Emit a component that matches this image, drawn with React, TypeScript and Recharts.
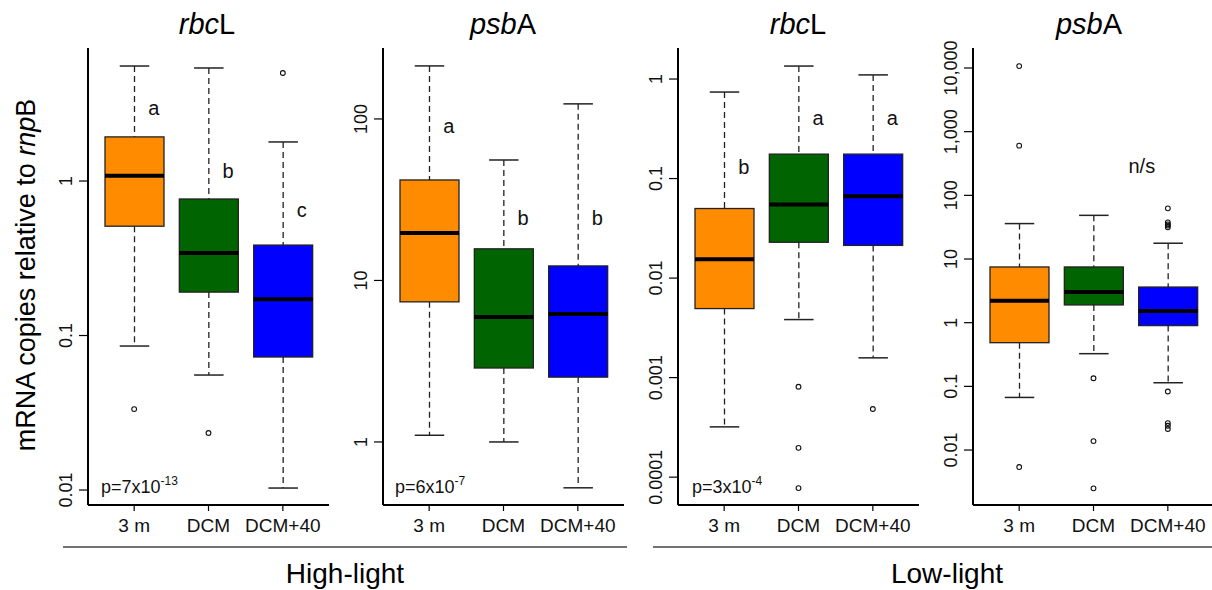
import React from "react";
import { ComposedChart, Bar, Scatter, XAxis, YAxis, ReferenceDot } from "recharts";

const FONT = "'Liberation Sans', Arial, Helvetica, sans-serif";

const categories = ["3 m", "DCM", "DCM+40"];
const boxColors = ["#ff8c00", "#006400", "#0000ff"];

// each row: [lower whisker, Q1, median, Q3, upper whisker]
const hlRbcLStats = [
  [0.0855, 0.51, 1.08, 1.93, 5.55],
  [0.0555, 0.191, 0.342, 0.765, 5.39],
  [0.0103, 0.0726, 0.172, 0.385, 1.79],
];
const hlRbcLOutliers = [[0.0334], [0.0234], [5.0]];
const hlRbcLLetters = ["a", "b", "c"];
const hlRbcLLetterY = [2.97, 1.16, 0.65];

const hlPsbAStats = [
  [1.1, 7.37, 19.7, 41.9, 213],
  [1.0, 2.87, 5.94, 15.7, 55.7],
  [0.52, 2.52, 6.2, 12.3, 124],
];
const hlPsbAOutliers: number[][] = [[], [], []];
const hlPsbALetters = ["a", "b", "b"];
const hlPsbALetterY = [90.5, 24.4, 24.4];

const llRbcLStats = [
  [0.00032, 0.00494, 0.0155, 0.05, 0.74],
  [0.00383, 0.0229, 0.055, 0.176, 1.35],
  [0.00158, 0.0213, 0.0664, 0.176, 1.1],
];
const llRbcLOutliers = [[], [0.00081, 0.000197, 0.0000776], [0.000484]];
const llRbcLLetters = ["b", "a", "a"];
const llRbcLLetterY = [0.13, 0.405, 0.405];

const llPsbAStats = [
  [0.067, 0.485, 2.22, 7.5, 36],
  [0.326, 1.9, 3.03, 7.5, 48.5],
  [0.114, 0.9, 1.53, 3.63, 17.7],
];
const llPsbAOutliers = [
  [10700, 603, 0.0054],
  [0.134, 0.0138, 0.0025],
  [62.5, 37.5, 35, 33.5, 31.5, 0.083, 0.0265, 0.024, 0.0214],
];
const llPsbALetters = ["", "n/s", ""];
const llPsbALetterY = [1, 292, 1];

const plainTicks = (v: number) => String(v);
const commaTicks = (v: number) => v.toLocaleString("en-US");

function span(p: any) {
  const top = Math.min(p.y, p.y + p.height);
  return { top, bottom: top + Math.abs(p.height), cx: p.x + p.width / 2, w: p.width };
}

const LowWhisker = (p: any) => {
  const s = span(p);
  return (
    <g>
      <line x1={s.cx} x2={s.cx} y1={s.top} y2={s.bottom} stroke="#222" strokeWidth={1.3} strokeDasharray="6 4" />
      <line x1={s.cx - s.w / 4} x2={s.cx + s.w / 4} y1={s.bottom} y2={s.bottom} stroke="#222" strokeWidth={1.5} />
    </g>
  );
};

const HighWhisker = (p: any) => {
  const s = span(p);
  return (
    <g>
      <line x1={s.cx} x2={s.cx} y1={s.top} y2={s.bottom} stroke="#222" strokeWidth={1.3} strokeDasharray="6 4" />
      <line x1={s.cx - s.w / 4} x2={s.cx + s.w / 4} y1={s.top} y2={s.top} stroke="#222" strokeWidth={1.5} />
    </g>
  );
};

const BoxShape = (p: any) => {
  const s = span(p);
  return (
    <rect x={p.x} y={s.top} width={p.width} height={s.bottom - s.top} fill={p.payload.color} stroke="#222" strokeWidth={1.3} />
  );
};

const MedianShape = (p: any) => {
  const s = span(p);
  const y = (s.top + s.bottom) / 2;
  return <line x1={p.x} x2={p.x + p.width} y1={y} y2={y} stroke="#000" strokeWidth={4} />;
};

const OutlierShape = (p: any) => (
  <circle cx={p.cx} cy={p.cy} r={2.4} fill="none" stroke="#111" strokeWidth={1.1} />
);

const XTick = (p: any) => (
  <text x={p.x} y={p.y + 19} textAnchor="middle" fontFamily={FONT} fontSize={19} fill="#111">
    {p.payload.value}
  </text>
);

interface PanelProps {
  left: number;
  stats: number[][];
  outliers: number[][];
  letters: string[];
  letterY: number[];
  letterDx: number;
  domain: [number, number];
  ticks: number[];
  fmt: (v: number) => string;
}

function Panel({ left, stats, outliers, letters, letterY, letterDx, domain, ticks, fmt }: PanelProps) {
  const rows = categories.map((name, i) => ({
    name,
    low: stats[i][0],
    q1: stats[i][1],
    med: stats[i][2],
    q3: stats[i][3],
    high: stats[i][4],
    color: boxColors[i],
  }));
  const dots = outliers.flatMap((vals, i) => vals.map((v) => ({ name: categories[i], value: v })));

  const YTick = (p: any) => {
    const bx = p.x - 5;
    return (
      <text
        x={bx}
        y={p.y}
        transform={`rotate(-90, ${bx}, ${p.y})`}
        textAnchor="middle"
        fontFamily={FONT}
        fontSize={18}
        fill="#111"
      >
        {fmt(p.payload.value)}
      </text>
    );
  };

  return (
    <div style={{ position: "absolute", left: left - 60, top: 0 }}>
      <ComposedChart
        width={303}
        height={590}
        data={rows}
        margin={{ top: 48, right: 2, bottom: 0, left: 0 }}
        barSize={59}
        barGap={-59}
        barCategoryGap={0}
      >
        <XAxis
          dataKey="name"
          type="category"
          allowDuplicatedCategory={false}
          padding={{ left: 9, right: 9 }}
          height={85}
          interval={0}
          tickSize={6}
          axisLine={{ stroke: "#000", strokeWidth: 2 }}
          tickLine={{ stroke: "#000", strokeWidth: 1.2 }}
          tick={XTick}
        />
        <XAxis
          xAxisId="top"
          dataKey="name"
          orientation="top"
          height={0}
          tick={false}
          tickLine={false}
          axisLine={{ stroke: "#000", strokeWidth: 2 }}
        />
        <YAxis
          type="number"
          scale="log"
          domain={domain}
          allowDataOverflow
          ticks={ticks}
          interval={0}
          width={60}
          tickSize={9}
          axisLine={{ stroke: "#000", strokeWidth: 2 }}
          tickLine={{ stroke: "#000", strokeWidth: 1.2 }}
          tick={YTick}
        />
        <YAxis
          yAxisId="right"
          orientation="right"
          width={0}
          tick={false}
          tickLine={false}
          axisLine={{ stroke: "#000", strokeWidth: 2 }}
        />
        <Bar dataKey={(d: any) => [d.low, d.q1]} shape={LowWhisker} isAnimationActive={false} />
        <Bar dataKey={(d: any) => [d.q3, d.high]} shape={HighWhisker} isAnimationActive={false} />
        <Bar dataKey={(d: any) => [d.q1, d.q3]} shape={BoxShape} isAnimationActive={false} />
        <Bar dataKey={(d: any) => [d.med, d.med]} shape={MedianShape} isAnimationActive={false} />
        <Scatter data={dots} dataKey="value" shape={OutlierShape} isAnimationActive={false} />
        {letters.map((t, i) =>
          t ? (
            <ReferenceDot
              key={i}
              x={categories[i]}
              y={letterY[i]}
              r={0}
              shape={(p: any) => (
                <text x={p.cx + letterDx} y={p.cy} dy="0.35em" fontFamily={FONT} fontSize={20} fill="#111">
                  {t}
                </text>
              )}
            />
          ) : null
        )}
      </ComposedChart>
    </div>
  );
}

function PValue({ x, base, exp }: { x: number; base: string; exp: string }) {
  return (
    <text x={x} y={493} fontFamily={FONT} fontSize={18} fill="#111">
      {base}
      <tspan fontSize={12} dy={-8}>
        {exp}
      </tspan>
    </text>
  );
}

function Title({ x, it, rest }: { x: number; it: string; rest: string }) {
  return (
    <text x={x} y={34} textAnchor="middle" fontFamily={FONT} fontSize={29} fill="#000">
      <tspan fontStyle="italic">{it}</tspan>
      {rest}
    </text>
  );
}

export default function App() {
  return (
    <div
      style={{
        position: "absolute",
        left: 0,
        top: 0,
        width: 1212,
        height: 590,
        overflow: "hidden",
        background: "#fff",
      }}
    >
      <Panel
        left={88}
        stats={hlRbcLStats}
        outliers={hlRbcLOutliers}
        letters={hlRbcLLetters}
        letterY={hlRbcLLetterY}
        letterDx={14}
        domain={[0.008, 7.26]}
        ticks={[0.01, 0.1, 1]}
        fmt={plainTicks}
      />
      <Panel
        left={383}
        stats={hlPsbAStats}
        outliers={hlPsbAOutliers}
        letters={hlPsbALetters}
        letterY={hlPsbALetterY}
        letterDx={14}
        domain={[0.407, 275]}
        ticks={[1, 10, 100]}
        fmt={plainTicks}
      />
      <Panel
        left={678}
        stats={llRbcLStats}
        outliers={llRbcLOutliers}
        letters={llRbcLLetters}
        letterY={llRbcLLetterY}
        letterDx={14}
        domain={[0.0000525, 2.05]}
        ticks={[0.0001, 0.001, 0.01, 0.1, 1]}
        fmt={plainTicks}
      />
      <Panel
        left={973}
        stats={llPsbAStats}
        outliers={llPsbAOutliers}
        letters={llPsbALetters}
        letterY={llPsbALetterY}
        letterDx={35}
        domain={[0.00137, 20600]}
        ticks={[0.01, 0.1, 1, 10, 100, 1000, 10000]}
        fmt={commaTicks}
      />
      <svg
        width={1212}
        height={590}
        style={{ position: "absolute", left: 0, top: 0, pointerEvents: "none" }}
      >
        <Title x={207} it="rbc" rest="L" />
        <Title x={503} it="psb" rest="A" />
        <Title x={798} it="rbc" rest="L" />
        <Title x={1089} it="psb" rest="A" />
        <text
          x={35}
          y={275}
          transform="rotate(-90, 35, 275)"
          textAnchor="middle"
          fontFamily={FONT}
          fontSize={27}
          fill="#000"
        >
          mRNA copies relative to <tspan fontStyle="italic">rnp</tspan>B
        </text>
        <PValue x={101} base="p=7x10" exp="-13" />
        <PValue x={395} base="p=6x10" exp="-7" />
        <PValue x={692} base="p=3x10" exp="-4" />
        <line x1={63} x2={627} y1={547} y2={547} stroke="#444" strokeWidth={1.4} />
        <line x1={653} x2={1212} y1={547} y2={547} stroke="#444" strokeWidth={1.4} />
        <text x={345} y={583} textAnchor="middle" fontFamily={FONT} fontSize={28} fill="#000">
          High-light
        </text>
        <text x={947} y={583} textAnchor="middle" fontFamily={FONT} fontSize={28} fill="#000">
          Low-light
        </text>
      </svg>
    </div>
  );
}
